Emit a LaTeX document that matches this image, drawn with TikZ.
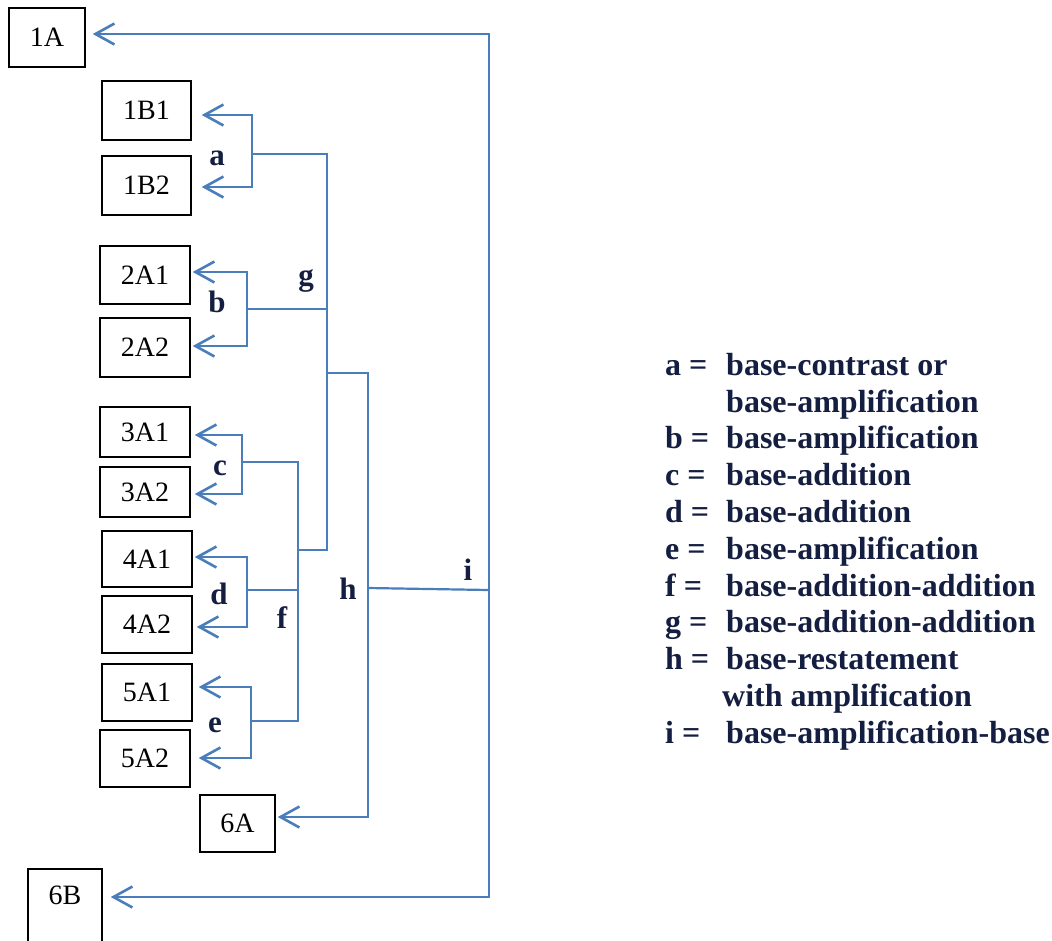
\documentclass[tikz,border=0pt]{standalone}
\usepackage{fontspec}
\setmainfont{Liberation Serif}
\usetikzlibrary{arrows.meta}
\definecolor{lineblue}{RGB}{74,126,187}
\definecolor{navy}{RGB}{20,30,65}
\begin{document}
\begin{tikzpicture}[x=1pt,y=-1pt,
  box/.style={draw=black, line width=1.5pt, inner sep=0pt, font=\fontsize{28}{30}\selectfont},
  conn/.style={draw=lineblue, line width=2.2pt},
  thick conn/.style={draw=lineblue, line width=2.6pt},
  tip/.tip={Straight Barb[length=19pt,width=21pt]},
  bar/.style={thick conn, tip-tip},
  toone/.style={thick conn, -tip},
  lbl/.style={font=\bfseries\fontsize{31}{33}\selectfont, text=navy, inner sep=0pt, anchor=base},
  leg/.style={font=\bfseries\fontsize{32}{34}\selectfont, text=navy, inner sep=0pt, anchor=base west}]
\useasboundingbox (0,0) rectangle (1052,940);
\clip (0,0) rectangle (1052,940);

% boxes
\node[box, minimum width=76pt, minimum height=59pt] (1A) at (47,37.5) {1A};
\node[box, minimum width=89pt, minimum height=59pt] (1B1) at (146.5,110.5) {1B1};
\node[box, minimum width=89pt, minimum height=59pt] (1B2) at (146.5,185.5) {1B2};
\node[box, minimum width=90pt, minimum height=58pt] (2A1) at (145,275) {2A1};
\node[box, minimum width=90pt, minimum height=59pt] (2A2) at (145,347.5) {2A2};
\node[box, minimum width=90pt, minimum height=50pt] (3A1) at (145,432) {3A1};
\node[box, minimum width=90pt, minimum height=50pt] (3A2) at (145,492) {3A2};
\node[box, minimum width=90pt, minimum height=56pt] (4A1) at (147,559) {4A1};
\node[box, minimum width=90pt, minimum height=57pt] (4A2) at (147,624.5) {4A2};
\node[box, minimum width=90pt, minimum height=57pt] (5A1) at (147,692.5) {5A1};
\node[box, minimum width=90pt, minimum height=57pt] (5A2) at (145,758.5) {5A2};
\node[box, minimum width=75pt, minimum height=57pt] (6A) at (237.5,823.5) {6A};
\node[box, minimum width=74pt, anchor=north, text height=36pt, text depth=60pt] (6B) at (65,868) {6B};

% bracket corner coordinates
\coordinate (aT) at (252,115);  \coordinate (aB) at (252,187);
\coordinate (bT) at (247,272);  \coordinate (bB) at (247,346);
\coordinate (cT) at (242,435);  \coordinate (cB) at (242,494);
\coordinate (dT) at (247,557);  \coordinate (dB) at (247,627);
\coordinate (eT) at (251,687);  \coordinate (eB) at (251,758);
\coordinate (iT) at (489,34);   \coordinate (iB) at (489,897);
\coordinate (hB) at (368,817);

% brackets with arrows
\draw[bar, shorten <=10pt, shorten >=10pt] (aT -| 1B1.east) -- (aT) -- (aB) -- (aB -| 1B2.east);
\draw[bar, shorten <=2pt, shorten >=2pt] (bT -| 2A1.east) -- (bT) -- (bB) -- (bB -| 2A2.east);
\draw[bar, shorten <=4pt, shorten >=4pt] (cT -| 3A1.east) -- (cT) -- (cB) -- (cB -| 3A2.east);
\draw[bar, shorten <=2pt, shorten >=4pt] (dT -| 4A1.east) -- (dT) -- (dB) -- (dB -| 4A2.east);
\draw[bar, shorten <=6pt, shorten >=8pt] (eT -| 5A1.east) -- (eT) -- (eB) -- (eB -| 5A2.east);
\draw[bar, shorten <=7pt, shorten >=8pt] (iT -| 1A.east) -- (iT) -- (iB) -- (iB -| 6B.east);

% stems and trunks
\draw[conn] (252,154) -- (327,154) -- (327,550) -- (298,550);
\draw[conn] (247,309) -- (327,309);
\draw[conn] (242,462) -- (298,462) -- (298,721) -- (251,721);
\draw[conn] (247,590) -- (298,590);
\draw[toone, shorten >=2pt] (327,373) -- (368,373) -- (hB) -- (hB -| 6A.east);
\draw[conn] (368,588) -- (489,590);

% connector labels
\node[lbl] (la) at (217,165) {a};
\node[lbl] (lb) at (217,312) {b};
\node[lbl] (lg) at (306,285) {g};
\node[lbl] (lc) at (220,475) {c};
\node[lbl] (ld) at (219,604) {d};
\node[lbl] (lf) at (282,628) {f};
\node[lbl] (le) at (215,732) {e};
\node[lbl] (lh) at (348,599) {h};
\node[lbl] (li) at (468,580) {i};

% legend
\node[leg] (ka)  at (665,375.3) {a =};
\node[leg] (ta)  at (726,375.3) {base-contrast or};
\node[leg] (ta2) at (726,412.1) {base-amplification};
\node[leg] (kb)  at (665,448.9) {b =};
\node[leg] (tb)  at (726,448.9) {base-amplification};
\node[leg] (kc)  at (665,485.7) {c =};
\node[leg] (tc)  at (726,485.7) {base-addition};
\node[leg] (kd)  at (665,522.5) {d =};
\node[leg] (td)  at (726,522.5) {base-addition};
\node[leg] (ke)  at (665,559.3) {e =};
\node[leg] (te)  at (726,559.3) {base-amplification};
\node[leg] (kf)  at (665,596.1) {f =};
\node[leg] (tf)  at (726,596.1) {base-addition-addition};
\node[leg] (kg)  at (665,632.9) {g =};
\node[leg] (tg)  at (726,632.9) {base-addition-addition};
\node[leg] (kh)  at (665,669.7) {h =};
\node[leg] (th)  at (726,669.7) {base-restatement};
\node[leg] (th2) at (722,706.5) {with amplification};
\node[leg] (ki)  at (665,743.3) {i =};
\node[leg] (ti)  at (726,743.3) {base-amplification-base};
\end{tikzpicture}
\end{document}
